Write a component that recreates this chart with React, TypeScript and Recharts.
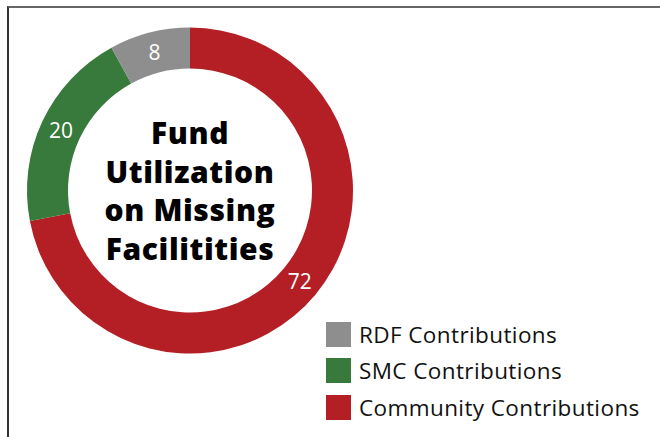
import { PieChart, Pie, Cell } from "recharts";

const categories = ["Community Contributions", "SMC Contributions", "RDF Contributions"];
const values = [72, 20, 8];
const colors = ["#B41E25", "#387A3B", "#8E8E8E"];
const legendOrder = ["RDF Contributions", "SMC Contributions", "Community Contributions"];
const titleLines = ["Fund", "Utilization", "on Missing", "Facilitities"];

const data = categories.map((name, i) => ({ name, value: values[i], color: colors[i] }));

const FONT = "'Open Sans', Lato, sans-serif";
const RADIAN = Math.PI / 180;
const CX = 190;
const CY = 190.5;

function SliceLabel(props: any) {
  const { cx, cy, midAngle, innerRadius, outerRadius, value } = props;
  const r = (innerRadius + outerRadius) / 2;
  const x = cx + r * Math.cos(-midAngle * RADIAN);
  const y = cy + r * Math.sin(-midAngle * RADIAN);
  return (
    <text x={x} y={y} fill="#fff" fontSize={21} fontFamily={FONT} textAnchor="middle" dominantBaseline="central">
      {value}
    </text>
  );
}

function CenterTitle() {
  const lh = 38.5;
  const top = CY - (lh * (titleLines.length - 1)) / 2;
  return (
    <text textAnchor="middle" fontFamily={FONT} fontWeight={800} fontSize={30} letterSpacing={0.6} fill="#000">
      {titleLines.map((t, i) => (
        <tspan key={t} x={CX} y={top + i * lh} dominantBaseline="central">
          {t}
        </tspan>
      ))}
    </text>
  );
}

function LegendBox() {
  return (
    <div style={{ position: "absolute", left: 326, top: 316, fontFamily: FONT }}>
      {legendOrder.map((name) => {
        const d = data.find((x) => x.name === name)!;
        return (
          <div key={name} style={{ display: "flex", alignItems: "center", height: 36.5, whiteSpace: "nowrap" }}>
            <span style={{ width: 25, height: 25, background: d.color, display: "inline-block", marginRight: 8 }} />
            <span style={{ fontSize: 22.5, letterSpacing: 0.4, color: "#111" }}>{name}</span>
          </div>
        );
      })}
    </div>
  );
}

export default function App() {
  return (
    <div style={{ position: "absolute", left: 0, top: 0, width: 660, height: 437, background: "#fff", overflow: "hidden" }}>
      <div
        style={{
          position: "absolute",
          left: 7,
          top: 6,
          width: 700,
          height: 500,
          borderTop: "2px solid #666",
          borderLeft: "2px solid #333",
        }}
      />
      <PieChart
        width={660}
        height={437}
        margin={{ top: 0, right: 0, bottom: 0, left: 0 }}
        style={{ position: "absolute", left: 0, top: 0 }}
      >
        <Pie
          data={data}
          dataKey="value"
          nameKey="name"
          cx={CX}
          cy={CY}
          innerRadius={122}
          outerRadius={163}
          startAngle={90}
          endAngle={-270}
          stroke="none"
          label={SliceLabel}
          labelLine={false}
          isAnimationActive={false}
        >
          {data.map((d) => (
            <Cell key={d.name} fill={d.color} />
          ))}
        </Pie>
        <CenterTitle />
      </PieChart>
      <LegendBox />
    </div>
  );
}
